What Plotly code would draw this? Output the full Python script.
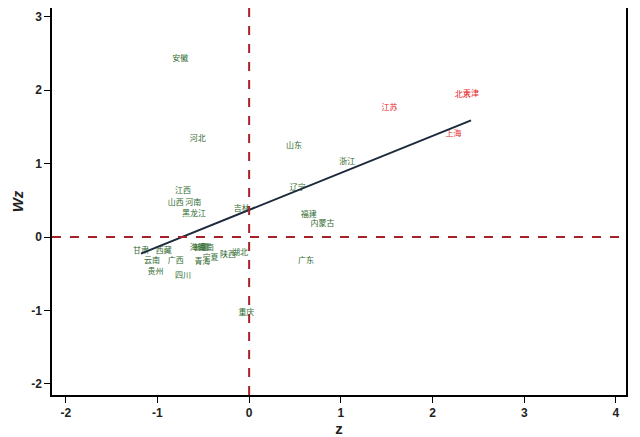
import plotly.graph_objects as go

provinces = ["安徽", "河北", "山东", "浙江", "江苏", "北京", "天津", "上海",
             "江西", "山西", "河南", "黑龙江", "吉林", "辽宁", "福建", "内蒙古",
             "广东", "甘肃", "西藏", "云南", "广西", "贵州", "四川", "海南",
             "新疆", "湖南", "青海", "宁夏", "陕西", "湖北", "重庆"]
z = [-0.75, -0.56, 0.49, 1.07, 1.53, 2.33, 2.42, 2.23,
     -0.72, -0.80, -0.61, -0.60, -0.08, 0.53, 0.65, 0.80,
     0.62, -1.18, -0.93, -1.06, -0.80, -1.02, -0.72, -0.56,
     -0.52, -0.47, -0.51, -0.42, -0.23, -0.10, -0.03]
wz = [2.42, 1.33, 1.24, 1.02, 1.76, 1.93, 1.95, 1.40,
      0.63, 0.46, 0.46, 0.31, 0.38, 0.67, 0.30, 0.18,
      -0.33, -0.19, -0.19, -0.33, -0.33, -0.48, -0.53, -0.15,
      -0.15, -0.15, -0.34, -0.29, -0.25, -0.21, -1.03]
highlight = ["江苏", "北京", "天津", "上海"]

slope = 0.504
intercept = 0.37

colors = ["#e8262a" if p in highlight else "#2f6b2f" for p in provinces]

fig = go.Figure()
fig.add_trace(go.Scatter(
    x=z, y=wz, mode="text", text=provinces,
    textfont=dict(size=8, color=colors, family="Noto Sans CJK SC"),
    textposition="middle center", showlegend=False, hoverinfo="text"))

lx = [min(z), max(z)]
ly = [intercept + slope * v for v in lx]
fig.add_trace(go.Scatter(x=lx, y=ly, mode="lines",
                         line=dict(color="#1c2a3c", width=2), showlegend=False))

fig.add_shape(type="line", xref="x", yref="paper", x0=0, x1=0, y0=0, y1=1,
              line=dict(color="#a8202a", width=2, dash="dash"))
fig.add_shape(type="line", xref="paper", yref="y", x0=0, x1=1, y0=0, y1=0,
              line=dict(color="#a8202a", width=2, dash="dash"))

axis_common = dict(showline=True, linecolor="black", linewidth=1.5, mirror=True,
                   ticks="outside", ticklen=6, tickcolor="black", tickwidth=1.2,
                   showgrid=False, zeroline=False, automargin=False,
                   tickfont=dict(family="Liberation Sans", size=12, color="#222"))

fig.update_xaxes(range=[-2.15, 4.11], tickvals=[-2, -1, 0, 1, 2, 3, 4],
                 ticktext=["<b>-2</b>", "<b>-1</b>", "<b>0</b>", "<b>1</b>", "<b>2</b>", "<b>3</b>", "<b>4</b>"],
                 title=dict(text="<b>z</b>", font=dict(family="Liberation Sans", size=15, color="#222"),
                            standoff=0),
                 **axis_common)
fig.update_yaxes(range=[-2.15, 3.12], tickvals=[-2, -1, 0, 1, 2, 3],
                 ticktext=["<b>-2</b>", "<b>-1</b>", "<b>0</b>", "<b>1</b>", "<b>2</b>", "<b>3</b>"],
                 title=dict(text="<b><i>Wz</i></b>", font=dict(family="Liberation Sans", size=15, color="#222"),
                            standoff=4),
                 **axis_common)

fig.update_layout(width=640, height=437, plot_bgcolor="white", paper_bgcolor="white",
                  margin=dict(l=44, r=22, t=0, b=50))
fig.write_html("out.html")
